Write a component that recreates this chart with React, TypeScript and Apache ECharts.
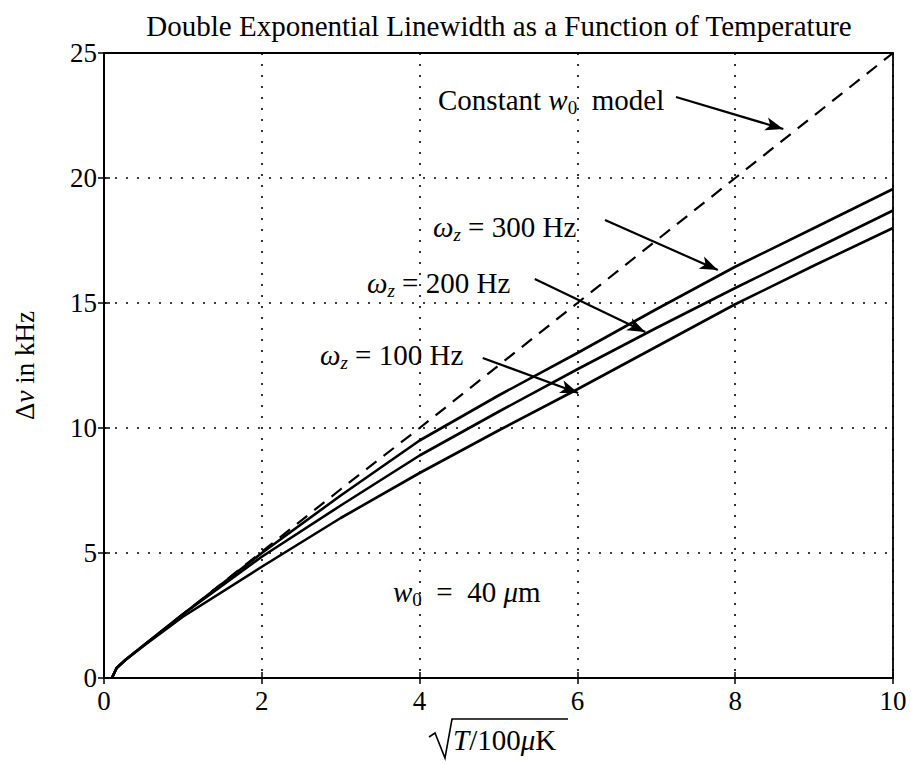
import React, { useEffect, useRef } from "react";
import * as echarts from "echarts";

const xVals = [0.1, 0.16, 0.27, 0.5, 1, 2, 3, 4, 5, 6, 7, 8, 9, 10];
const constW0 = [0, 0.4, 0.72, 1.3, 2.55, 5.05, 7.55, 10.0, 12.5, 15.0, 17.5, 20.0, 22.5, 25.0];
const wz300 = [0, 0.4, 0.72, 1.3, 2.55, 5.0, 7.3, 9.5, 11.3, 13.0, 14.75, 16.45, 18.0, 19.56];
const wz200 = [0, 0.4, 0.72, 1.3, 2.55, 4.85, 6.9, 8.9, 10.65, 12.35, 14.0, 15.6, 17.15, 18.7];
const wz100 = [0, 0.4, 0.72, 1.28, 2.45, 4.45, 6.4, 8.2, 9.9, 11.55, 13.25, 14.95, 16.5, 18.0];

const xTicks = [0, 2, 4, 6, 8, 10];
const yTicks = [0, 5, 10, 15, 20, 25];

// arrows: [fromX, fromY, toX, toY] in data units
const arrows = [
  [7.25, 23.24, 8.61, 21.96],
  [6.35, 18.32, 7.78, 16.32],
  [5.46, 15.96, 6.86, 13.84],
  [4.8, 12.8, 6.01, 11.4],
];

const FONT = "Liberation Serif";

const rich = {
  r: { fontFamily: FONT, fontSize: 29, color: "#000", lineHeight: 34 },
  i: { fontFamily: FONT, fontSize: 29, fontStyle: "italic", color: "#000", lineHeight: 34 },
  s: { fontFamily: FONT, fontSize: 19, color: "#000", lineHeight: 19, padding: [15, 0, 0, 0] },
  si: { fontFamily: FONT, fontSize: 19, fontStyle: "italic", color: "#000", lineHeight: 19, padding: [15, 0, 0, 0] },
};

export default function App() {
  const ref = useRef<HTMLDivElement>(null);
  useEffect(() => {
    document.body.style.margin = "0";
    const chart = echarts.init(ref.current!, null, { renderer: "svg" });
    const pair = (ys: number[]) => xVals.map((x, k) => [x, ys[k]]);
    const axisCommon = {
      type: "value" as const,
      axisLine: { show: true, lineStyle: { color: "#000", width: 1.8 } },
      axisTick: { show: true, inside: true, length: 6, lineStyle: { color: "#000", width: 1.5 } },
      splitLine: { show: true, lineStyle: { color: "#000", type: [2, 9], width: 1.6 } },
      axisLabel: { fontFamily: FONT, fontSize: 27, color: "#000" },
    };
    chart.setOption({
      animation: false,
      backgroundColor: "#fff",
      title: {
        text: "Double Exponential Linewidth as a Function of Temperature",
        left: 494,
        textAlign: "center",
        top: 6,
        textStyle: { fontFamily: FONT, fontSize: 29, fontWeight: "normal", color: "#000" },
      },
      grid: { left: 104, right: 18, top: 53, bottom: 86, show: true, borderColor: "#000", borderWidth: 1.8 },
      xAxis: [
        {
          ...axisCommon,
          min: xTicks[0],
          max: xTicks[xTicks.length - 1],
          interval: 2,
          axisLabel: { ...axisCommon.axisLabel, margin: 9 },
        },
        {
          ...axisCommon,
          position: "top",
          min: 0,
          max: 10,
          interval: 2,
          axisLabel: { show: false },
          splitLine: { show: false },
        },
      ],
      yAxis: [
        {
          ...axisCommon,
          min: yTicks[0],
          max: yTicks[yTicks.length - 1],
          interval: 5,
          axisLabel: { ...axisCommon.axisLabel, margin: 7 },
          name: "{r|Δ}{i|ν}{r| in kHz}",
          nameLocation: "middle",
          nameGap: 62,
          nameRotate: 90,
          nameTextStyle: { rich: { ...rich, r: { ...rich.r, fontSize: 27 }, i: { ...rich.i, fontSize: 27 } } },
        },
        {
          ...axisCommon,
          position: "right",
          min: 0,
          max: 25,
          interval: 5,
          axisLabel: { show: false },
          splitLine: { show: false },
        },
      ],
      series: [
        {
          type: "line",
          data: pair(constW0),
          showSymbol: false,
          lineStyle: { color: "#000", width: 2.2, type: [13, 9] },
          markLine: {
            silent: true,
            symbol: ["none", "arrow"],
            symbolSize: [10, 18],
            label: { show: false },
            lineStyle: { color: "#000", width: 2.2, type: "solid" },
            data: arrows.map((a) => [{ coord: [a[0], a[1]] }, { coord: [a[2], a[3]] }]),
          },
        },
        { type: "line", data: pair(wz300), showSymbol: false, lineStyle: { color: "#000", width: 2.6 } },
        { type: "line", data: pair(wz200), showSymbol: false, lineStyle: { color: "#000", width: 2.6 } },
        { type: "line", data: pair(wz100), showSymbol: false, lineStyle: { color: "#000", width: 2.6 } },
      ],
      graphic: [
        {
          type: "text",
          left: 438,
          top: 83,
          style: { text: "{r|Constant }{i|w}{s|0}{r|  model}", rich },
        },
        { type: "text", left: 433, top: 210, style: { text: "{i|ω}{si|z}{r| = 300 Hz}", rich } },
        { type: "text", left: 367, top: 266, style: { text: "{i|ω}{si|z}{r| = 200 Hz}", rich } },
        { type: "text", left: 320, top: 338, style: { text: "{i|ω}{si|z}{r| = 100 Hz}", rich } },
        { type: "text", left: 393, top: 575, style: { text: "{i|w}{s|0}{r|  =  40 }{i|μ}{r|m}", rich } },
        {
          type: "polyline",
          shape: { points: [[429, 737], [435, 733], [445, 758], [452, 719], [568, 719]] },
          style: { stroke: "#000", lineWidth: 1.6, fill: null },
        },
        { type: "text", left: 453, top: 725, style: { text: "{i|T}{r|/100}{i|μ}{r|K}", rich } },
      ],
    });
    return () => chart.dispose();
  }, []);
  return <div ref={ref} style={{ width: 911, height: 764 }} />;
}
